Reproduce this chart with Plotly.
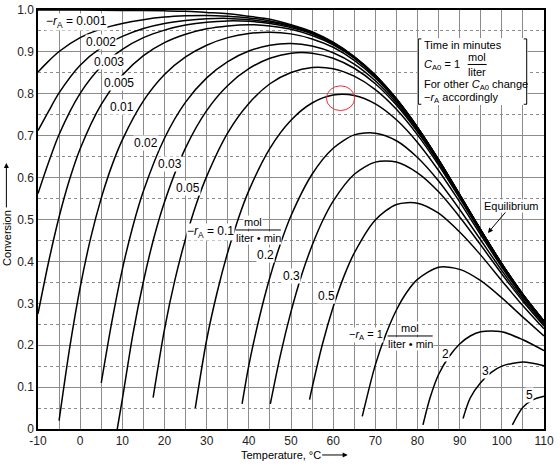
import plotly.graph_objects as go

# ---------------- data (Temperature in degC, Conversion) ----------------
eq_T = [-10, 0, 10, 20, 25, 30, 35, 40, 45, 50, 55, 60, 65, 70, 75, 80, 85, 90, 95, 100, 105, 110]
eq_X = [1.000, 1.000, 0.999, 0.998, 0.997, 0.994, 0.991, 0.985, 0.978, 0.965, 0.948, 0.923, 0.889,
        0.845, 0.788, 0.720, 0.643, 0.560, 0.475, 0.394, 0.321, 0.257]

r0001_T = [-10, -7.5, -5, 0, 5, 10, 15, 20, 25, 30, 35, 40, 45, 50, 55, 60, 65, 70, 75, 80, 85, 90, 95, 100, 105, 110]
r0001_X = [0.852, 0.878, 0.901, 0.934, 0.955, 0.968, 0.977, 0.983, 0.986, 0.987, 0.985, 0.981, 0.974, 0.963,
           0.946, 0.922, 0.888, 0.844, 0.788, 0.720, 0.643, 0.559, 0.475, 0.394, 0.321, 0.257]

r0002_T = [-10, -7.5, -5, 0, 5, 10, 15, 20, 25, 30, 35, 40, 45, 50, 55, 60, 65, 70, 75, 80, 85, 90, 95, 100, 105, 110]
r0002_X = [0.712, 0.758, 0.802, 0.868, 0.910, 0.937, 0.956, 0.968, 0.975, 0.979, 0.980, 0.977, 0.971, 0.961,
           0.944, 0.921, 0.887, 0.843, 0.787, 0.720, 0.642, 0.559, 0.475, 0.394, 0.321, 0.257]

r0003_T = [-10, -7.5, -5, 0, 5, 10, 15, 20, 25, 30, 35, 40, 45, 50, 55, 60, 65, 70, 75, 80, 85, 90, 95, 100, 105, 110]
r0003_X = [0.562, 0.636, 0.703, 0.801, 0.865, 0.906, 0.934, 0.952, 0.964, 0.971, 0.974, 0.973, 0.968, 0.958,
           0.943, 0.919, 0.887, 0.843, 0.787, 0.719, 0.642, 0.559, 0.475, 0.394, 0.321, 0.257]

r0005_T = [-10, -7.5, -5, -2.5, 0, 5, 10, 15, 20, 25, 30, 35, 40, 45, 50, 55, 60, 65, 70, 75, 80, 85, 90, 95, 100, 105, 110]
r0005_X = [0.275, 0.398, 0.506, 0.596, 0.669, 0.775, 0.844, 0.891, 0.922, 0.942, 0.955, 0.962, 0.965, 0.962,
           0.954, 0.939, 0.917, 0.885, 0.841, 0.786, 0.718, 0.642, 0.559, 0.474, 0.394, 0.320, 0.257]

r001_T = [-5, -2.5, 0, 2.5, 5, 7.5, 10, 15, 20, 25, 30, 35, 40, 45, 50, 55, 60, 65, 70, 75, 80, 85, 90, 95, 100, 105, 110]
r001_X = [0.020, 0.193, 0.338, 0.456, 0.551, 0.628, 0.690, 0.783, 0.846, 0.888, 0.916, 0.934, 0.944, 0.947,
          0.943, 0.931, 0.911, 0.880, 0.838, 0.783, 0.717, 0.640, 0.558, 0.474, 0.394, 0.320, 0.257]

r002_T = [5, 7.5, 10, 12.5, 15, 20, 25, 30, 35, 40, 45, 50, 55, 60, 65, 70, 75, 80, 85, 90, 95, 100, 105, 110]
r002_X = [0.110, 0.255, 0.381, 0.484, 0.568, 0.694, 0.780, 0.838, 0.877, 0.902, 0.916, 0.920, 0.914, 0.898,
          0.871, 0.831, 0.778, 0.713, 0.638, 0.556, 0.473, 0.393, 0.320, 0.256]

r003_T = [8.8, 10, 12.5, 15, 17.5, 20, 25, 30, 35, 40, 45, 50, 55, 60, 65, 70, 75, 80, 85, 90, 95, 100, 105, 110]
r003_X = [0.000, 0.071, 0.226, 0.352, 0.457, 0.542, 0.671, 0.760, 0.820, 0.860, 0.885, 0.897, 0.897, 0.885,
          0.861, 0.824, 0.773, 0.709, 0.635, 0.554, 0.472, 0.392, 0.319, 0.256]

r005_T = [17.3, 20, 22.5, 25, 27.5, 30, 35, 40, 45, 50, 55, 60, 65, 70, 75, 80, 85, 90, 95, 100, 105, 110]
r005_X = [0.075, 0.238, 0.357, 0.454, 0.536, 0.603, 0.707, 0.777, 0.824, 0.851, 0.863, 0.860, 0.842, 0.810,
          0.763, 0.702, 0.630, 0.551, 0.469, 0.390, 0.318, 0.255]

r01_T = [27.3, 30, 32.5, 35, 37.5, 40, 45, 50, 55, 60, 65, 70, 75, 80, 85, 90, 95, 100, 105, 110]
r01_X = [0.050, 0.213, 0.327, 0.422, 0.502, 0.569, 0.670, 0.737, 0.778, 0.797, 0.796, 0.776, 0.738, 0.684,
         0.617, 0.542, 0.463, 0.386, 0.315, 0.254]

r02_T = [38.4, 40, 42.5, 45, 47.5, 50, 55, 60, 65, 70, 75, 80, 85, 90, 95, 100, 105, 110]
r02_X = [0.060, 0.152, 0.266, 0.362, 0.442, 0.509, 0.608, 0.670, 0.702, 0.706, 0.688, 0.648, 0.592, 0.524,
         0.451, 0.378, 0.310, 0.250]

r03_T = [45.1, 47.5, 50, 52.5, 55, 57.5, 60, 65, 70, 75, 80, 85, 90, 95, 100, 105, 110]
r03_X = [0.060, 0.177, 0.280, 0.367, 0.438, 0.497, 0.544, 0.608, 0.637, 0.637, 0.611, 0.566, 0.506, 0.439,
         0.370, 0.305, 0.246]

r05_T = [54.4, 55, 57.5, 60, 62.5, 65, 70, 75, 80, 85, 90, 95, 100, 105, 110]
r05_X = [0.070, 0.098, 0.204, 0.291, 0.363, 0.420, 0.499, 0.536, 0.539, 0.515, 0.470, 0.415, 0.354, 0.294, 0.239]

r1_T = [66.9, 70, 72.5, 75, 77.5, 80, 85, 90, 95, 100, 105, 110]
r1_X = [0.030, 0.153, 0.226, 0.284, 0.327, 0.357, 0.386, 0.381, 0.354, 0.313, 0.267, 0.222]

r2_T = [81.3, 83, 85, 87.5, 90, 92.5, 95, 100, 105, 110]
r2_X = [0.010, 0.075, 0.130, 0.173, 0.203, 0.222, 0.232, 0.232, 0.213, 0.187]

r3_T = [90.8, 92.5, 95, 97.5, 100, 105, 110]
r3_X = [0.025, 0.074, 0.111, 0.135, 0.150, 0.160, 0.151]

r5_T = [102.5, 105, 107.5, 110]
r5_X = [0.010, 0.052, 0.070, 0.078]

x_tick_vals = [-10, 0, 10, 20, 30, 40, 50, 60, 70, 80, 90, 100, 110]
x_tick_text = ["-10", "0", "10", "20", "30", "40", "50", "60", "70", "80", "90", "100", "110"]
y_tick_vals = [0, 0.1, 0.2, 0.3, 0.4, 0.5, 0.6, 0.7, 0.8, 0.9, 1.0]
y_tick_text = ["0", "0.1", "0.2", "0.3", "0.4", "0.5", "0.6", "0.7", "0.8", "0.9", "1.0"]

# ---------------- figure ----------------
series = [
    (eq_T, eq_X), (r0001_T, r0001_X), (r0002_T, r0002_X), (r0003_T, r0003_X), (r0005_T, r0005_X),
    (r001_T, r001_X), (r002_T, r002_X), (r003_T, r003_X), (r005_T, r005_X), (r01_T, r01_X),
    (r02_T, r02_X), (r03_T, r03_X), (r05_T, r05_X), (r1_T, r1_X), (r2_T, r2_X), (r3_T, r3_X), (r5_T, r5_X),
]

fig = go.Figure()
for T, X in series:
    fig.add_trace(go.Scatter(x=T, y=X, mode="lines", hoverinfo="skip", showlegend=False,
                             line=dict(color="black", width=1.5, shape="spline", smoothing=0.8)))

FONT = "Liberation Sans"
ann = []


def lab(text, x, y, size=12, bg="white", xanchor="center", **kw):
    ann.append(dict(text=text, x=x, y=y, xref="x", yref="y", showarrow=False, xanchor=xanchor,
                    yanchor="middle", bgcolor=bg, borderpad=0,
                    font=dict(family=FONT, size=size, color="black"), **kw))


RA = "\u2212<i>r</i><sub>A</sub>"
lab(RA + " = 0.001", -0.9, 0.972)
lab("0.002", 4.9, 0.923)
lab("0.003", 6.8, 0.875)
lab("0.005", 9.1, 0.825)
lab("0.01", 10.0, 0.769)
lab("0.02", 15.5, 0.682)
lab("0.03", 21.4, 0.632)
lab("0.05", 25.5, 0.576)
lab(RA + " = 0.1", 31.0, 0.470)
lab("mol", 41.0, 0.494, size=11)
lab("liter \u2022 min", 42.2, 0.455, size=11)
lab("0.2", 43.9, 0.415)
lab("0.3", 50.0, 0.365)
lab("0.5", 58.3, 0.317)
lab(RA + " = 1", 67.8, 0.224, size=11)
lab("mol", 78.3, 0.240, size=11)
lab("liter \u2022 min", 78.3, 0.204, size=11)
lab("2", 86.7, 0.180)
lab("3", 96.2, 0.138)
lab("5", 106.6, 0.081)

# information box
lab("Time in minutes", 81.2, 0.916, size=11, bg=None, xanchor="left")
lab("<i>C</i><sub>A0</sub> = 1", 81.2, 0.869, size=11, bg=None, xanchor="left")
lab("mol", 94.1, 0.889, size=11, bg=None)
lab("liter", 94.1, 0.852, size=11, bg=None)
lab("For other <i>C</i><sub>A0</sub> change", 81.2, 0.821, size=11, bg=None, xanchor="left")
lab(RA + " accordingly", 81.2, 0.789, size=11, bg=None, xanchor="left")

# equilibrium label with arrow
ann.append(dict(text="Equilibrium", x=96.7, y=0.468, xref="x", yref="y", showarrow=True,
                ax=23, ay=-27, arrowhead=2, arrowsize=1, arrowwidth=1, arrowcolor="black",
                bgcolor="white", borderpad=0, font=dict(family=FONT, size=11, color="black")))

# axis titles (text + arrow)
ann.append(dict(text="Conversion", x=-0.0625, y=0.457, xref="paper", yref="paper", showarrow=False,
                xanchor="center", yanchor="middle", textangle=-90,
                font=dict(family=FONT, size=11, color="black")))
ann.append(dict(text="", x=-0.0625, y=0.635, xref="paper", yref="paper", showarrow=True, ax=0, ay=46,
                arrowhead=2, arrowsize=1, arrowwidth=1, arrowcolor="black"))
ann.append(dict(text="Temperature, \u00b0C", x=0.480, y=-0.062, xref="paper", yref="paper",
                xanchor="center", yanchor="middle", showarrow=False,
                font=dict(family=FONT, size=11, color="black")))
ann.append(dict(text="", x=0.612, y=-0.062, xref="paper", yref="paper", showarrow=True, ax=-27, ay=0,
                arrowhead=2, arrowsize=1, arrowwidth=1, arrowcolor="black"))

shapes = [
    # white background of the info box (covers the grid)
    dict(type="rect", xref="x", yref="y", x0=80.0, x1=106.1, y0=0.773, y1=0.933,
         fillcolor="white", line=dict(width=0), layer="between"),
    # left bracket
    dict(type="path", xref="x", yref="y", path="M 80.9,0.931 L 80.2,0.931 L 80.2,0.775 L 80.9,0.775",
         line=dict(color="black", width=1)),
    # right bracket
    dict(type="path", xref="x", yref="y", path="M 105.2,0.931 L 105.9,0.931 L 105.9,0.775 L 105.2,0.775",
         line=dict(color="black", width=1)),
    # fraction bars
    dict(type="line", xref="x", yref="y", x0=91.9, x1=96.4, y0=0.870, y1=0.870, line=dict(color="black", width=1)),
    dict(type="line", xref="x", yref="y", x0=36.9, x1=47.6, y0=0.475, y1=0.475, line=dict(color="black", width=1)),
    dict(type="line", xref="x", yref="y", x0=72.9, x1=83.6, y0=0.222, y1=0.222, line=dict(color="black", width=1)),
    # hand-drawn red circle
    dict(type="circle", xref="x", yref="y", x0=58.4, x1=65.1, y0=0.760, y1=0.819,
         line=dict(color="#e8303a", width=1)),
]

GRID = "#8c8c8c"
fig.update_layout(
    width=560, height=469,
    margin=dict(l=38, r=16, t=10, b=40, autoexpand=False),
    paper_bgcolor="white", plot_bgcolor="white",
    annotations=ann, shapes=shapes,
    xaxis=dict(range=[-10, 110], tickmode="array", tickvals=x_tick_vals, ticktext=x_tick_text,
               automargin=False,
               showgrid=True, gridcolor=GRID, gridwidth=1, zeroline=False,
               minor=dict(tickmode="array", tickvals=[-5, 5, 15, 25, 35, 45, 55, 65, 75, 85, 95, 105],
                          showgrid=True, gridcolor=GRID, gridwidth=1),
               showline=True, linecolor="black", linewidth=1.5, mirror=True, ticks="",
               tickfont=dict(family=FONT, size=12, color="#222")),
    yaxis=dict(range=[0, 1.0], tickmode="array", tickvals=y_tick_vals, ticktext=y_tick_text,
               automargin=False,
               showgrid=True, gridcolor=GRID, gridwidth=1, zeroline=False,
               minor=dict(tickmode="array", tickvals=[0.05, 0.15, 0.25, 0.35, 0.45, 0.55, 0.65, 0.75, 0.85, 0.95],
                          showgrid=True, gridcolor=GRID, gridwidth=1, griddash="dot"),
               showline=True, linecolor="black", linewidth=1.5, mirror=True, ticks="",
               tickfont=dict(family=FONT, size=12, color="#222")),
)

fig.write_html("out.html")
